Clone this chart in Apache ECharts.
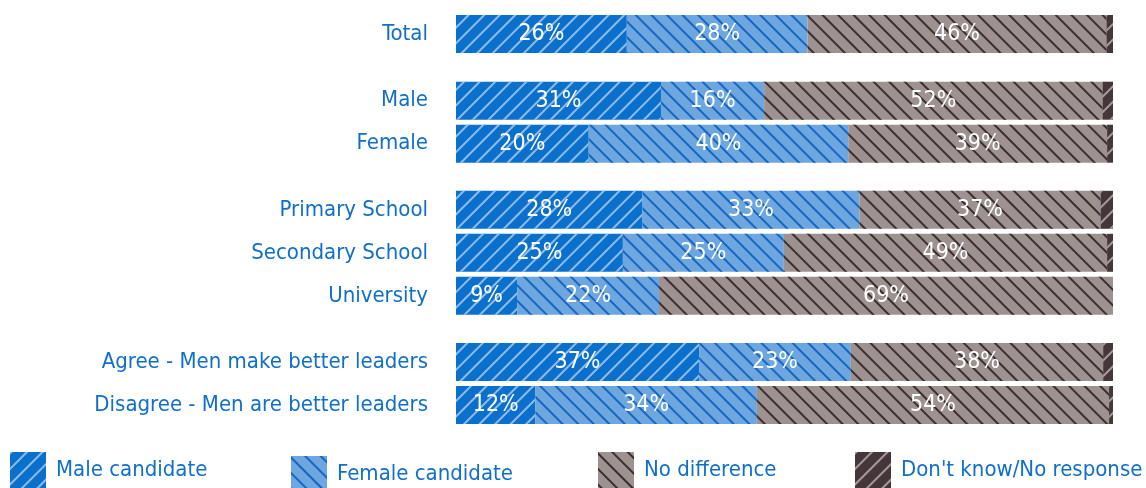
<!DOCTYPE html>
<html>
<head>
<meta charset="utf-8">
<script src="https://cdn.jsdelivr.net/npm/echarts@6/dist/echarts.min.js"></script>
<style>
  html, body { margin: 0; padding: 0; background: #fff; }
  #chart { width: 1146px; height: 488px; }
</style>
</head>
<body>
<div id="chart"></div>
<script>
// Row groups, top to bottom
const totalRows = ["Total"];
const genderRows = ["Male", "Female"];
const educationRows = ["Primary School", "Secondary School", "University"];
const opinionRows = ["Agree - Men make better leaders", "Disagree - Men are better leaders"];

// Share of respondents (%) per answer, rows in the order above
const maleCandidate = [26.0, 31.2, 20.2, 28.4, 25.4, 9.3, 37.0, 12.1];
const femaleCandidate = [27.5, 15.7, 39.5, 33.0, 24.5, 21.6, 23.1, 33.7];
const noDifference = [45.5, 51.5, 39.4, 36.7, 49.2, 69.1, 38.4, 53.6];
const dontKnow = [1.0, 1.6, 0.9, 1.9, 0.9, 0.0, 1.5, 0.6];

const seriesNames = ["Male candidate", "Female candidate", "No difference", "Don't know/No response"];

const FONT = "'Liberation Sans Narrow', 'DejaVu Sans Condensed', 'Roboto Condensed', sans-serif";
const TEXT_BLUE = '#0f6fc9';

const groups = [totalRows, genderRows, educationRows, opinionRows];
const ROW = 43;
const gridTops = [12.5, 79.2, 188.3, 340.5];

// thin diagonal hatching laid over each fill
function hatch(color, dir) {
  return {
    symbol: 'rect',
    symbolSize: 1,
    color: color,
    dashArrayX: [1, 0],
    dashArrayY: [1.2, 8.3],
    rotation: dir === '/' ? -Math.PI / 4 : Math.PI / 4
  };
}

const styles = [
  { color: '#0a70cc', decal: hatch('rgba(150,192,240,0.95)', '/') },
  { color: '#6ea6e0', decal: hatch('#1466c2', '\\') },
  { color: '#9e9291', decal: hatch('#3a2d2f', '\\') },
  { color: '#45363a', decal: hatch('#a89a9b', '/') }
];
const valueSets = [maleCandidate, femaleCandidate, noDifference, dontKnow];

const grid = [], xAxis = [], yAxis = [], series = [];
let offset = 0;
groups.forEach((rows, gi) => {
  grid.push({ left: 456, right: 33, top: gridTops[gi], height: rows.length * ROW, containLabel: false });
  xAxis.push({ type: 'value', gridIndex: gi, min: 0, max: 100, show: false });
  yAxis.push({
    type: 'category', gridIndex: gi, data: rows, inverse: true,
    axisLine: { show: false }, axisTick: { show: false },
    axisLabel: { color: TEXT_BLUE, fontSize: 22, fontFamily: FONT, margin: 28 }
  });
  valueSets.forEach((vals, si) => {
    series.push({
      name: seriesNames[si],
      type: 'bar',
      stack: 'g' + gi,
      xAxisIndex: gi,
      yAxisIndex: gi,
      barWidth: 38,
      itemStyle: styles[si],
      label: {
        show: si < 3,
        position: 'inside',
        color: '#fff',
        fontSize: 23,
        fontFamily: FONT,
        formatter: p => Math.round(p.value) + '%'
      },
      emphasis: { disabled: true },
      data: vals.slice(offset, offset + rows.length)
    });
  });
  offset += rows.length;
});

const legendLefts = [10, 291, 598, 855];
const legendTops = [452, 456, 452, 452];
const legend = seriesNames.map((n, i) => ({
  data: [{ name: n, icon: 'rect' }],
  left: legendLefts[i],
  top: legendTops[i],
  itemWidth: 36,
  itemHeight: 36,
  padding: 0,
  selectedMode: false,
  textStyle: { color: TEXT_BLUE, fontSize: 22, fontFamily: FONT, padding: [0, 0, 0, 5] }
}));

const chart = echarts.init(document.getElementById('chart'), null, { renderer: 'canvas' });
chart.setOption({
  animation: false,
  backgroundColor: '#fff',
  grid, xAxis, yAxis, series, legend
});
</script>
</body>
</html>
